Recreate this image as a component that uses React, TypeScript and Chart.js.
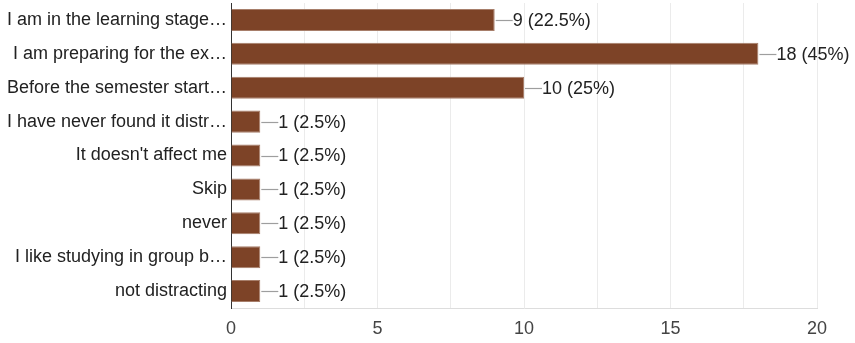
import React, { useEffect, useRef } from "react";
import { Chart, registerables } from "chart.js";

Chart.register(...registerables);

const categories = [
  "I am in the learning stage…",
  "I am preparing for the ex…",
  "Before the semester start…",
  "I have never found it distr…",
  "It doesn't affect me",
  "Skip",
  "never",
  "I like studying in group b…",
  "not distracting",
];
const counts = [9, 18, 10, 1, 1, 1, 1, 1, 1];
const percents = ["22.5%", "45%", "25%", "2.5%", "2.5%", "2.5%", "2.5%", "2.5%", "2.5%"];
const xTicks = [0, 5, 10, 15, 20];

const FONT = "'Liberation Sans', Arial, sans-serif";

const leaderPlugin = {
  id: "leaderLabels",
  afterDatasetsDraw(chart: any) {
    const ctx = chart.ctx;
    const meta = chart.getDatasetMeta(0);
    ctx.save();
    meta.data.forEach((bar: any, i: number) => {
      const x = bar.x;
      const y = bar.y;
      ctx.strokeStyle = "#9e9e9e";
      ctx.lineWidth = 1.2;
      ctx.beginPath();
      ctx.moveTo(x + 1, Math.round(y) + 0.5);
      ctx.lineTo(x + 18, Math.round(y) + 0.5);
      ctx.stroke();
      ctx.fillStyle = "#222222";
      ctx.font = `18px ${FONT}`;
      ctx.textAlign = "left";
      ctx.textBaseline = "middle";
      ctx.fillText(`${counts[i]} (${percents[i]})`, x + 18, y + 1);
    });
    ctx.restore();
  },
};

export default function App() {
  const ref = useRef<HTMLCanvasElement>(null);
  useEffect(() => {
    if (!ref.current) return;
    const chart = new Chart(ref.current, {
      type: "bar",
      data: {
        labels: categories,
        datasets: [
          {
            data: counts,
            backgroundColor: "#7d4327",
            borderColor: "#a77e6a",
            borderWidth: 1,
            barPercentage: 0.65,
            categoryPercentage: 1,
          },
        ],
      },
      options: {
        indexAxis: "y",
        animation: false,
        responsive: false,
        maintainAspectRatio: false,
        layout: { padding: { top: 3, right: 38, left: 0, bottom: 0 } },
        plugins: { legend: { display: false }, tooltip: { enabled: false } },
        scales: {
          x: {
            min: 0,
            max: 20,
            afterFit: (s: any) => {
              s.height = 35;
              s.paddingLeft = 0;
              s.paddingRight = 0;
            },
            afterBuildTicks: (s: any) => {
              const t = [];
              for (let v = 0; v <= 20; v += 2.5) t.push({ value: v });
              s.ticks = t;
            },
            grid: { color: "#ebebeb", drawTicks: false },
            border: { color: "#dddddd" },
            ticks: {
              padding: 10,
              color: "#444444",
              font: { family: FONT, size: 18 },
              autoSkip: false,
              maxRotation: 0,
              callback: (v: any) => (xTicks.includes(Number(v)) ? String(v) : ""),
            },
          },
          y: {
            afterFit: (s: any) => {
              s.width = 231;
              s.paddingTop = 0;
              s.paddingBottom = 0;
            },
            grid: { display: false, drawTicks: false },
            border: { color: "#333333", width: 1 },
            ticks: {
              padding: 4,
              color: "#222222",
              font: { family: FONT, size: 18 },
              autoSkip: false,
            },
          },
        },
      },
      plugins: [leaderPlugin],
    } as any);
    return () => chart.destroy();
  }, []);
  return (
    <div style={{ position: "absolute", left: 0, top: 0, width: 855, height: 343, background: "#fff" }}>
      <canvas ref={ref} width={855} height={343} style={{ width: 855, height: 343, display: "block" }} />
    </div>
  );
}
